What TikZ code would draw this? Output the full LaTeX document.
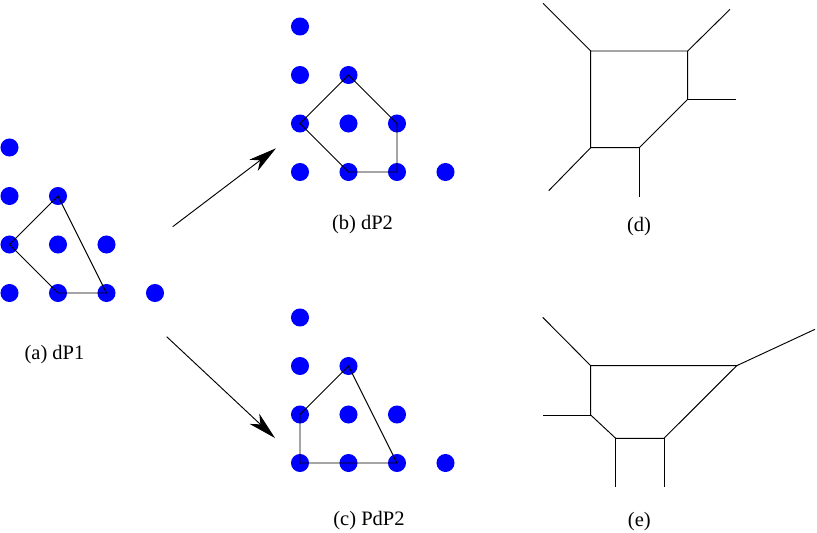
\documentclass[tikz,border=0pt]{standalone}
\usepackage{fontspec}
\setmainfont{Liberation Serif}
\usetikzlibrary{arrows.meta}
\begin{document}
\begin{tikzpicture}[x=0.03cm,y=-0.03cm,
  dot/.style={circle,fill=blue,inner sep=0pt,minimum size=15.4pt},
  e/.style={line width=0.8pt},
  arr/.style={line width=0.8pt,-{Stealth[length=24pt,width=12pt,inset=7pt]}},
  lab/.style={font=\fontsize{17.5}{20}\selectfont}]
\useasboundingbox (0,0) rectangle (817,532);
\node[dot] (a03) at (9.5,147.5) {};
\node[dot] (a02) at (9.5,196) {};
\node[dot] (a12) at (58,196) {};
\node[dot] (a01) at (9.5,244.5) {};
\node[dot] (a11) at (58,244.5) {};
\node[dot] (a21) at (106.5,244.5) {};
\node[dot] (a00) at (9.5,293) {};
\node[dot] (a10) at (58,293) {};
\node[dot] (a20) at (106.5,293) {};
\node[dot] (a30) at (155,293) {};
\draw[e] (a12.center)--(a01.center)--(a10.center)--(a20.center)--cycle;
\node[lab] (la) at (54.5,355) {(a) dP1};
\node[dot] (b03) at (300,26.5) {};
\node[dot] (b02) at (300,75) {};
\node[dot] (b12) at (348.5,75) {};
\node[dot] (b01) at (300,123.5) {};
\node[dot] (b11) at (348.5,123.5) {};
\node[dot] (b21) at (397,123.5) {};
\node[dot] (b00) at (300,172) {};
\node[dot] (b10) at (348.5,172) {};
\node[dot] (b20) at (397,172) {};
\node[dot] (b30) at (445.5,172) {};
\draw[e] (b12.center)--(b01.center)--(b10.center)--(b20.center)--(b21.center)--cycle;
\node[lab] (lb) at (362.5,225) {(b) dP2};
\node[dot] (c03) at (300,317.5) {};
\node[dot] (c02) at (300,366) {};
\node[dot] (c12) at (348.5,366) {};
\node[dot] (c01) at (300,414.5) {};
\node[dot] (c11) at (348.5,414.5) {};
\node[dot] (c21) at (397,414.5) {};
\node[dot] (c00) at (300,463) {};
\node[dot] (c10) at (348.5,463) {};
\node[dot] (c20) at (397,463) {};
\node[dot] (c30) at (445.5,463) {};
\draw[e] (c12.center)--(c01.center)--(c00.center)--(c20.center)--cycle;
\node[lab] (lc) at (369,521) {(c) PdP2};
\coordinate (s1) at (172.7,226.7);
\coordinate (t1) at (276,148.3);
\coordinate (s2) at (166.7,336.7);
\coordinate (t2) at (275,438);
\draw[arr] (s1)--(t1);
\draw[arr] (s2)--(t2);
\coordinate (d1) at (590.7,51);
\coordinate (d2) at (687.7,51);
\coordinate (d3) at (687.7,99.3);
\coordinate (d4) at (639.3,147.7);
\coordinate (d5) at (590.7,147.7);
\coordinate (d1x) at (543,3.3);
\coordinate (d2x) at (730,9.3);
\coordinate (d3x) at (736,99.3);
\coordinate (d4x) at (639.3,196.7);
\coordinate (d5x) at (548.7,190.7);
\draw[e] (d1)--(d2)--(d3)--(d4)--(d5)--cycle;
\draw[e] (d1)--(d1x);
\draw[e] (d2)--(d2x);
\draw[e] (d3)--(d3x);
\draw[e] (d4)--(d4x);
\draw[e] (d5)--(d5x);
\node[lab] (ld) at (639,227) {(d)};
\coordinate (e1) at (590.7,365.7);
\coordinate (e2) at (736.7,365.7);
\coordinate (e3) at (664,438.3);
\coordinate (e4) at (615.7,438.3);
\coordinate (e5) at (590.7,415);
\coordinate (e1x) at (542.7,317.3);
\coordinate (e2x) at (815,329.3);
\coordinate (e3x) at (664,487.3);
\coordinate (e4x) at (615.7,487.3);
\coordinate (e5x) at (542.7,415);
\draw[e] (e1)--(e2)--(e3)--(e4)--(e5)--cycle;
\draw[e] (e1)--(e1x);
\draw[e] (e2)--(e2x);
\draw[e] (e3)--(e3x);
\draw[e] (e4)--(e4x);
\draw[e] (e5)--(e5x);
\node[lab] (le) at (639.3,522) {(e)};
\end{tikzpicture}
\end{document}
